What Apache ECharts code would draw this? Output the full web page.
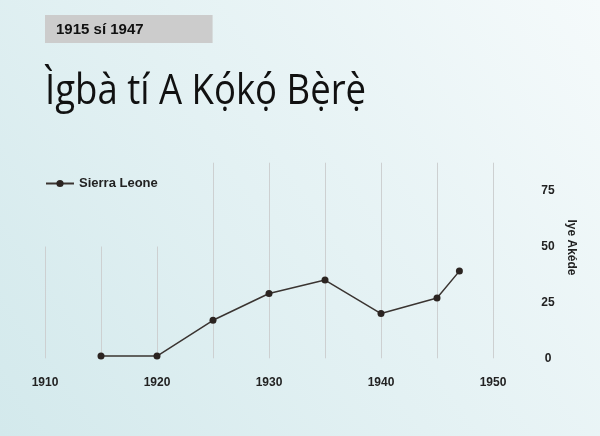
<!DOCTYPE html>
<html style="height: 100%">
<head>
    <meta charset="utf-8">
</head>
<body style="height: 100%; margin: 0">
    <div id="container" style="height: 100%"></div>
    <script type="text/javascript" src="https://cdn.jsdelivr.net/npm/echarts@6/dist/echarts.min.js"></script>
    <script type="text/javascript">
        // data
        var years = [1915, 1920, 1925, 1930, 1935, 1940, 1945, 1947];
        var counts = [1, 1, 17, 29, 35, 20, 27, 39];
        var gridYears = [1910, 1915, 1920, 1925, 1930, 1935, 1940, 1945, 1950];
        var seriesName = 'Sierra Leone';
        var titleText = 'Ìgbà tí A Kọ́kọ́ Bẹ̀rẹ̀';
        var subText = '1915 sí 1947';
        var yName = 'Iye Akéde';

        var yMax = 87.5;
        var font = '"Liberation Sans", Arial, sans-serif';

        // vertical guide lines, shortened under the legend
        var guides = [];
        for (let i = 0; i < gridYears.length; i++) {
            let lineTop = gridYears[i] < 1925 ? 50 : yMax;
            guides.push([{ coord: [gridYears[i], 0] }, { coord: [gridYears[i], lineTop] }]);
        }

        var pts = [];
        for (let i = 0; i < years.length; i++) {
            pts.push([years[i], counts[i]]);
        }

        var dom = document.getElementById("container");
        var myChart = echarts.init(dom);

        var option = {
            backgroundColor: {
                type: 'linear', x: 1, y: 0, x2: 0, y2: 1,
                colorStops: [
                    { offset: 0, color: '#f5fafb' },
                    { offset: 1, color: '#d3e9ec' }
                ]
            },
            title: {
                text: subText,
                left: 45,
                top: 15,
                backgroundColor: '#cccccc',
                padding: [7, 69, 6, 11],
                textStyle: {
                    fontFamily: font,
                    fontWeight: 'bold',
                    fontSize: 15,
                    color: '#111'
                }
            },
            graphic: [{
                type: 'text',
                x: 45,
                y: 92,
                scaleX: 0.87,
                style: {
                    text: titleText,
                    font: '42px "Open Sans"',
                    fill: '#111',
                    verticalAlign: 'middle'
                }
            }],
            legend: {
                data: [seriesName],
                left: 45,
                top: 177,
                padding: 0,
                itemWidth: 28,
                itemHeight: 9,
                textStyle: {
                    fontFamily: font,
                    fontWeight: 'bold',
                    fontSize: 13,
                    color: '#222'
                }
            },
            grid: {
                left: 45,
                right: 107,
                top: 162.7,
                bottom: 77.7
            },
            xAxis: {
                type: 'value',
                min: 1910,
                max: 1950,
                interval: 10,
                axisLine: { show: false },
                axisTick: { show: false },
                splitLine: { show: false },
                axisLabel: {
                    margin: 18,
                    formatter: function (v) { return String(v); },
                    fontFamily: font,
                    fontWeight: 'bold',
                    fontSize: 12,
                    color: '#222'
                }
            },
            yAxis: {
                type: 'value',
                position: 'right',
                min: 0,
                max: yMax,
                interval: 25,
                name: yName,
                nameLocation: 'middle',
                nameRotate: -90,
                nameGap: 72,
                nameTextStyle: {
                    fontFamily: font,
                    fontWeight: 'bold',
                    fontSize: 12,
                    color: '#222',
                    padding: [0, 26, 0, 0]
                },
                axisLine: { show: false },
                axisTick: { show: false },
                splitLine: { show: false },
                axisLabel: {
                    showMaxLabel: false,
                    align: 'center',
                    margin: 55,
                    fontFamily: font,
                    fontWeight: 'bold',
                    fontSize: 12,
                    color: '#222'
                }
            },
            series: [
                {
                    name: 'guides',
                    type: 'line',
                    data: [],
                    z: 1,
                    silent: true,
                    markLine: {
                        silent: true,
                        z: 1,
                        symbol: 'none',
                        label: { show: false },
                        lineStyle: { color: '#cdd0d1', width: 1, type: 'solid' },
                        data: guides
                    }
                },
                {
                    name: seriesName,
                    type: 'line',
                    data: pts,
                    z: 3,
                    symbol: 'circle',
                    symbolSize: 7,
                    lineStyle: { color: '#3a3431', width: 1.5 },
                    itemStyle: { color: '#2b2421', borderWidth: 0 }
                }
            ]
        };
        myChart.setOption(option);
    </script>
</body>
</html>
